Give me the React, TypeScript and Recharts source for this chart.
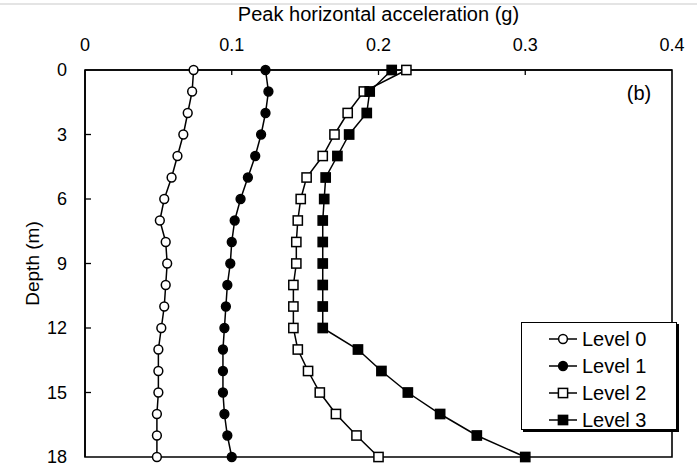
import React from 'react';
import {
  ScatterChart,
  Scatter,
  XAxis,
  YAxis,
  ReferenceArea,
  Legend,
  Customized,
} from 'recharts';

const depths = [0, 1, 2, 3, 4, 5, 6, 7, 8, 9, 10, 11, 12, 13, 14, 15, 16, 17, 18];
const level0 = [0.074, 0.073, 0.07, 0.067, 0.063, 0.059, 0.054, 0.051, 0.055, 0.056, 0.055, 0.054, 0.052, 0.05, 0.05, 0.05, 0.049, 0.049, 0.049];
const level1 = [0.123, 0.125, 0.123, 0.12, 0.116, 0.111, 0.106, 0.102, 0.1, 0.099, 0.097, 0.096, 0.095, 0.094, 0.094, 0.094, 0.095, 0.097, 0.1];
const level2 = [0.219, 0.19, 0.179, 0.17, 0.162, 0.151, 0.147, 0.145, 0.144, 0.144, 0.142, 0.142, 0.142, 0.145, 0.152, 0.16, 0.171, 0.185, 0.2];
const level3 = [0.209, 0.194, 0.192, 0.18, 0.172, 0.164, 0.163, 0.162, 0.162, 0.162, 0.162, 0.162, 0.162, 0.186, 0.202, 0.22, 0.242, 0.267, 0.3];

const xTicks = [0, 0.1, 0.2, 0.3, 0.4];
const yTicks = [0, 3, 6, 9, 12, 15, 18];

const FONT = '"Liberation Sans", Arial, Helvetica, sans-serif';
const PLOT_TOP = 70;
const PLOT_LEFT = 85;

type Marker = 'openCircle' | 'filledCircle' | 'openSquare' | 'filledSquare';

const series: { name: string; values: number[]; marker: Marker }[] = [
  { name: 'Level 0', values: level0, marker: 'openCircle' },
  { name: 'Level 1', values: level1, marker: 'filledCircle' },
  { name: 'Level 2', values: level2, marker: 'openSquare' },
  { name: 'Level 3', values: level3, marker: 'filledSquare' },
];

const toPoints = (values: number[]) => depths.map((d, i) => ({ x: values[i], depth: d }));

const MarkerShape = ({ cx, cy, marker }: { cx: number; cy: number; marker: Marker }) => {
  if (cx == null || cy == null) return null;
  const fill = marker === 'filledCircle' || marker === 'filledSquare' ? '#000' : '#fff';
  if (marker === 'openCircle' || marker === 'filledCircle') {
    return <circle cx={cx} cy={cy} r={4.4} fill={fill} stroke="#000" strokeWidth={1.5} />;
  }
  return <rect x={cx - 4.6} y={cy - 4.6} width={9.2} height={9.2} fill={fill} stroke="#000" strokeWidth={1.5} />;
};

// inward ticks, drawn with the labels
const XTick = ({ x, payload }: any) => (
  <g>
    {payload.value > 0 && payload.value < 0.4 && (
      <line x1={x} y1={PLOT_TOP} x2={x} y2={PLOT_TOP + 5} stroke="#000" strokeWidth={1.3} />
    )}
    <text x={x} y={51} textAnchor="middle" fontSize={18} fontFamily={FONT} fill="#000">
      {String(payload.value)}
    </text>
  </g>
);

const YTick = ({ y, payload }: any) => (
  <g>
    {payload.value > 0 && payload.value < 18 && (
      <line x1={PLOT_LEFT} y1={y} x2={PLOT_LEFT + 6} y2={y} stroke="#000" strokeWidth={1.3} />
    )}
    <text x={67} y={y} textAnchor="end" dominantBaseline="central" fontSize={18} fontFamily={FONT} fill="#000">
      {String(payload.value)}
    </text>
  </g>
);

const LegendBox = () => (
  <div
    style={{
      width: 156,
      height: 108,
      border: '1.5px solid #000',
      boxShadow: '2px 2px 0 #000',
      background: '#fff',
      boxSizing: 'border-box',
      paddingTop: 2,
    }}
  >
    {series.map((s) => (
      <div key={s.name} style={{ display: 'flex', alignItems: 'center', height: 27 }}>
        <svg width={34} height={14} style={{ marginLeft: 26 }}>
          <line x1={1} y1={7} x2={29} y2={7} stroke="#000" strokeWidth={1.5} />
          <MarkerShape cx={15} cy={7} marker={s.marker} />
        </svg>
        <span style={{ fontFamily: FONT, fontSize: 20, color: '#000', lineHeight: '20px' }}>{s.name}</span>
      </div>
    ))}
  </div>
);

export default function App() {
  return (
    <div style={{ position: 'absolute', left: 0, top: 0, width: 697, height: 466, background: '#fff' }}>
      <div style={{ position: 'absolute', left: 0, top: 3, width: 697, height: 2, background: '#e4e4e4' }} />
      <ScatterChart
        width={697}
        height={466}
        margin={{ top: 0, right: 25, bottom: 9, left: 0 }}
        style={{ fontFamily: FONT }}
      >
        <XAxis
          dataKey="x"
          type="number"
          orientation="top"
          domain={[0, 0.4]}
          ticks={xTicks}
          height={70}
          tickLine={false}
          tick={<XTick />}
          axisLine={{ stroke: '#000', strokeWidth: 1.6 }}
          label={{ value: 'Peak horizontal acceleration (g)', position: 'insideTop', offset: 7, fontSize: 20, fill: '#000', fontFamily: FONT }}
        />
        <YAxis
          dataKey="depth"
          type="number"
          domain={[0, 18]}
          ticks={yTicks}
          reversed
          width={85}
          tickLine={false}
          tick={<YTick />}
          axisLine={{ stroke: '#000', strokeWidth: 1.6 }}
          label={{
            content: ({ viewBox }: any) => {
              const cx = 32;
              const cy = viewBox.y + viewBox.height / 2;
              return (
                <text
                  x={cx}
                  y={cy}
                  transform={`rotate(-90 ${cx} ${cy})`}
                  textAnchor="middle"
                  dominantBaseline="central"
                  fontSize={19}
                  fontFamily={FONT}
                  fill="#000"
                >
                  Depth (m)
                </text>
              );
            },
          }}
        />
        <ReferenceArea x1={0} x2={0.4} y1={0} y2={18} fill="none" stroke="#000" strokeWidth={1.6} fillOpacity={0} />
        {series.map((s) => (
          <Scatter
            key={s.name}
            name={s.name}
            data={toPoints(s.values)}
            fill="#000"
            line={{ stroke: '#000', strokeWidth: 1.5 }}
            lineType="joint"
            shape={(props: any) => <MarkerShape cx={props.cx} cy={props.cy} marker={s.marker} />}
            isAnimationActive={false}
          />
        ))}
        <Customized
          component={() => (
            <text x={639} y={93} textAnchor="middle" dominantBaseline="central" fontSize={20} fontFamily={FONT} fill="#000">
              (b)
            </text>
          )}
        />
        <Legend
          layout="vertical"
          align="center"
          verticalAlign="middle"
          content={() => <LegendBox />}
          wrapperStyle={{ position: 'absolute', left: 521, top: 322, width: 160, height: 112 }}
        />
      </ScatterChart>
    </div>
  );
}
